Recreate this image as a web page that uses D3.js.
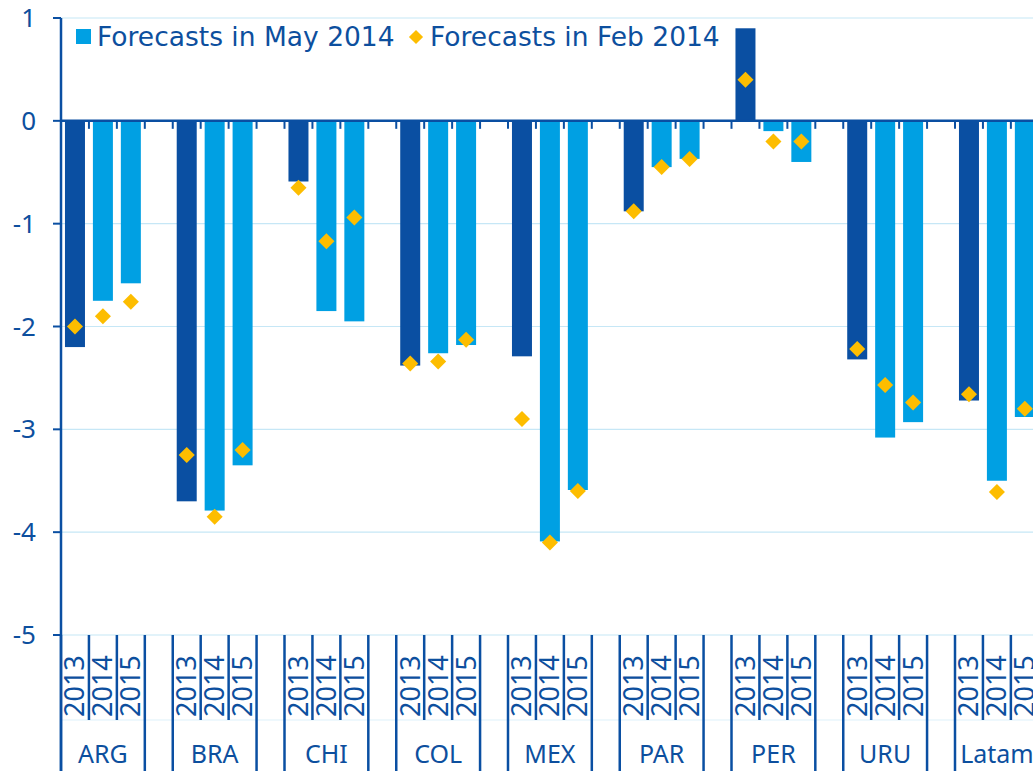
<!DOCTYPE html>
<html>
<head>
<meta charset="utf-8">
<script src="https://cdn.jsdelivr.net/npm/d3@7"></script>
<style>
  body { margin: 0; background: #fff; }
  svg { display: block; font-family: "Noto Sans", "Open Sans", sans-serif; }
  text { fill: #0d4f9e; }
  .legend text { font-family: "DejaVu Sans", sans-serif; }
</style>
</head>
<body>
<svg width="1033" height="771"></svg>
<script>
const countries = ["ARG", "BRA", "CHI", "COL", "MEX", "PAR", "PER", "URU", "Latam"];
const years = ["2013", "2014", "2015"];
// forecasts made in May 2014 (bars)
const may2014 = [
  [-2.2, -1.75, -1.58],
  [-3.7, -3.79, -3.35],
  [-0.59, -1.85, -1.95],
  [-2.38, -2.26, -2.18],
  [-2.29, -4.09, -3.59],
  [-0.88, -0.45, -0.37],
  [0.9, -0.1, -0.4],
  [-2.32, -3.08, -2.93],
  [-2.72, -3.5, -2.88]
];
// forecasts made in Feb 2014 (diamonds)
const feb2014 = [
  [-2.0, -1.9, -1.76],
  [-3.25, -3.85, -3.2],
  [-0.65, -1.17, -0.94],
  [-2.36, -2.34, -2.13],
  [-2.9, -4.1, -3.6],
  [-0.88, -0.45, -0.37],
  [0.4, -0.2, -0.2],
  [-2.22, -2.57, -2.74],
  [-2.66, -3.61, -2.8]
];
const yTicks = [1, 0, -1, -2, -3, -4, -5];
const legendLabels = ["Forecasts in May 2014", "Forecasts in Feb 2014"];

const dark = "#0a4fa2", light = "#00a0e3", gold = "#fdbd00", grid = "#c6e7f6";

const svg = d3.select("svg");
const left = 61, groupW = 111.75, slot = groupW / 4;

const x = d3.scaleBand().domain(countries).range([left, left + groupW * countries.length]);
const xs = d3.scaleBand().domain(years).range([0, slot * 3]);
const y = d3.scaleLinear().domain([-5, 1]).range([635, 18]);

const rows = countries.flatMap((c, i) => years.map((yr, j) => ({
  country: c, year: yr, may: may2014[i][j], feb: feb2014[i][j]
})));

// gridlines
svg.append("g").selectAll("line")
  .data(yTicks.filter(t => t !== 0))
  .join("line")
  .attr("x1", left).attr("x2", 1033)
  .attr("y1", d => y(d)).attr("y2", d => y(d))
  .attr("stroke", grid).attr("stroke-width", 1.2);

// faint line under year labels
svg.append("line")
  .attr("x1", left).attr("x2", 1033).attr("y1", 720).attr("y2", 720)
  .attr("stroke", grid).attr("stroke-width", 0.6);

// bars
const barW = 20;
svg.append("g").selectAll("rect")
  .data(rows)
  .join("rect")
  .attr("x", d => x(d.country) + xs(d.year) + (xs.bandwidth() - barW) / 2)
  .attr("width", barW)
  .attr("y", d => y(Math.max(0, d.may)))
  .attr("height", d => Math.abs(y(d.may) - y(0)))
  .attr("fill", d => d.year === "2013" ? dark : light);

// zero line with slot ticks
const slotEdges = d3.range(countries.length * 4 + 1).map(k => left + k * slot);
svg.append("g").selectAll("line")
  .data(slotEdges)
  .join("line")
  .attr("x1", d => d).attr("x2", d => d)
  .attr("y1", y(0)).attr("y2", y(0) + 8)
  .attr("stroke", dark).attr("stroke-width", 2);
svg.append("line")
  .attr("x1", left).attr("x2", 1033).attr("y1", y(0)).attr("y2", y(0))
  .attr("stroke", dark).attr("stroke-width", 2.5);

// diamonds
const diamond = d3.symbol(d3.symbolSquare, 128);
svg.append("g").selectAll("path")
  .data(rows)
  .join("path")
  .attr("d", diamond)
  .attr("transform", d => `translate(${x(d.country) + xs(d.year) + xs.bandwidth() / 2},${y(d.feb)}) rotate(45)`)
  .attr("fill", gold);

// y axis
const yAxis = svg.append("g");
yAxis.append("line")
  .attr("x1", left).attr("x2", left).attr("y1", y(1)).attr("y2", 771)
  .attr("stroke", dark).attr("stroke-width", 2.5);
yAxis.selectAll(".tick")
  .data(yTicks)
  .join("line")
  .attr("x1", left - 8).attr("x2", left)
  .attr("y1", d => y(d)).attr("y2", d => y(d))
  .attr("stroke", dark).attr("stroke-width", 2);
yAxis.selectAll("text")
  .data(yTicks)
  .join("text")
  .attr("x", 36).attr("y", d => y(d))
  .attr("dy", "0.35em")
  .attr("text-anchor", "end")
  .style("font-size", "26px")
  .text(d => d);

// category axis (two levels)
const cat = svg.append("g");
countries.forEach(c => {
  const x0 = x(c);
  [0, 1, 2, 3].forEach(k => {
    cat.append("line")
      .attr("x1", x0 + k * slot).attr("x2", x0 + k * slot)
      .attr("y1", y(-5)).attr("y2", k === 0 || k === 3 ? 771 : 720)
      .attr("stroke", dark).attr("stroke-width", 2.5);
  });
  years.forEach(yr => {
    const cx = x0 + xs(yr) + xs.bandwidth() / 2;
    cat.append("text")
      .attr("transform", `translate(${cx + 9.5},717) rotate(-90)`)
      .style("font-size", "27px")
      .text(yr);
  });
  cat.append("text")
    .attr("x", x0 + 1.5 * slot).attr("y", 763)
    .attr("text-anchor", "middle")
    .style("font-size", "25px")
    .text(c);
});

// legend
const legend = svg.append("g").attr("class", "legend");
legend.append("rect")
  .attr("x", 76).attr("y", 29).attr("width", 15).attr("height", 15)
  .attr("fill", light);
legend.append("text")
  .attr("x", 97).attr("y", 46)
  .style("font-size", "26.5px")
  .text(legendLabels[0]);
legend.append("path")
  .attr("d", d3.symbol(d3.symbolSquare, 100))
  .attr("transform", "translate(416,37) rotate(45)")
  .attr("fill", gold);
legend.append("text")
  .attr("x", 430).attr("y", 46)
  .style("font-size", "26.5px")
  .text(legendLabels[1]);
</script>
</body>
</html>
